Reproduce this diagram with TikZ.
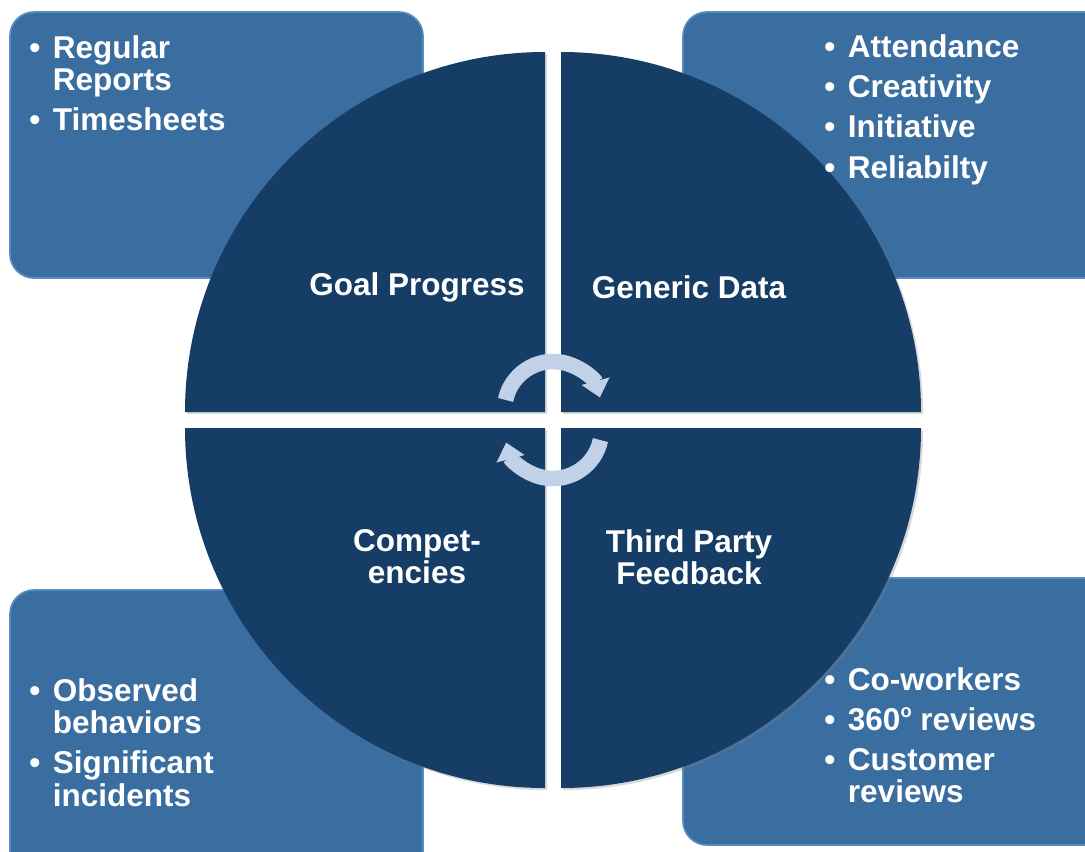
\documentclass[tikz,border=0pt]{standalone}
\usepackage{fontspec}
\setmainfont{Liberation Sans}
\usetikzlibrary{arrows.meta,shadows}
\definecolor{boxblue}{RGB}{58,110,160}
\definecolor{boxedge}{RGB}{88,140,192}
\definecolor{quadblue}{RGB}{21,61,102}
\definecolor{cyclearrow}{RGB}{192,209,232}
\newcommand{\bul}{\textbullet}
\newcommand{\blist}[1]{\begin{tabular}[t]{@{}l@{\hspace{9pt}}l@{}}#1\end{tabular}}
\newcommand{\dego}{\raisebox{0.4em}{\fontsize{13}{13}\selectfont o}}

\begin{document}
\begin{tikzpicture}[x=0.025cm, y=0.025cm,
    box/.style={fill=boxblue, draw=boxedge, line width=1.2pt, rounded corners=0.6cm},
    quad/.style={fill=quadblue, drop shadow={shadow xshift=1.5pt, shadow yshift=-1.5pt, opacity=0.3}},
    qtext/.style={text=white, font=\fontsize{22.4}{22.8}\selectfont\bfseries, align=center},
    bullets/.style={text=white, font=\fontsize{22.4}{22.8}\selectfont\bfseries, inner sep=0pt, anchor=base west},
    cyc/.style={draw=cyclearrow, line width=0.39cm, -{Triangle[width=0.7cm, length=0.42cm]}}]
    \useasboundingbox (0,0) rectangle (1085,-851);
    \clip (0,0) rectangle (1085,-851);
    \path[box] (10,-12) rectangle (423,-278);
    \path[box] (683,-12) rectangle (1110,-278);
    \path[box] (10,-590) rectangle (423,-880);
    \path[box] (683,-578) rectangle (1110,-845);
    \path[quad] (545,-412) -- (185,-412) arc[start angle=180, end angle=90, radius=360] -- cycle;
    \path[quad] (561,-412) -- (921,-412) arc[start angle=0, end angle=90, radius=360] -- cycle;
    \path[quad] (545,-428) -- (185,-428) arc[start angle=180, end angle=270, radius=360] -- cycle;
    \path[quad] (561,-428) -- (921,-428) arc[start angle=0, end angle=-90, radius=360] -- cycle;
    \draw[cyc] (553,-410) ++(168:48.5) arc[start angle=168, end angle=15, radius=48.5];
    \draw[cyc] (553,-430) ++(-12:48.5) arc[start angle=-12, end angle=-165, radius=48.5];
    \node[qtext] (goal) at (417,-287) {Goal Progress};
    \node[qtext] (generic) at (689,-287) {Generic Data};
    \node[qtext] (compet) at (417,-557) {Compet-\\encies};
    \node[qtext] (third) at (689,-557) {Third Party\\Feedback};
    \node[bullets] (reports) at (29,-58) {\blist{\bul & Regular\\ & Reports\\[5.7pt] \bul & Timesheets}};
    \node[bullets] (traits) at (824,-57) {\blist{\bul & Attendance\\[5.7pt] \bul & Creativity\\[5.7pt] \bul & Initiative\\[5.7pt] \bul & Reliabilty}};
    \node[bullets] (behaviors) at (29,-701) {\blist{\bul & Observed\\ & behaviors\\[5.7pt] \bul & Significant\\ & incidents}};
    \node[bullets] (reviews) at (824,-690) {\blist{\bul & Co-workers\\[5.7pt] \bul & 360\dego{} reviews\\[5.7pt] \bul & Customer\\ & reviews}};
\end{tikzpicture}
\end{document}
